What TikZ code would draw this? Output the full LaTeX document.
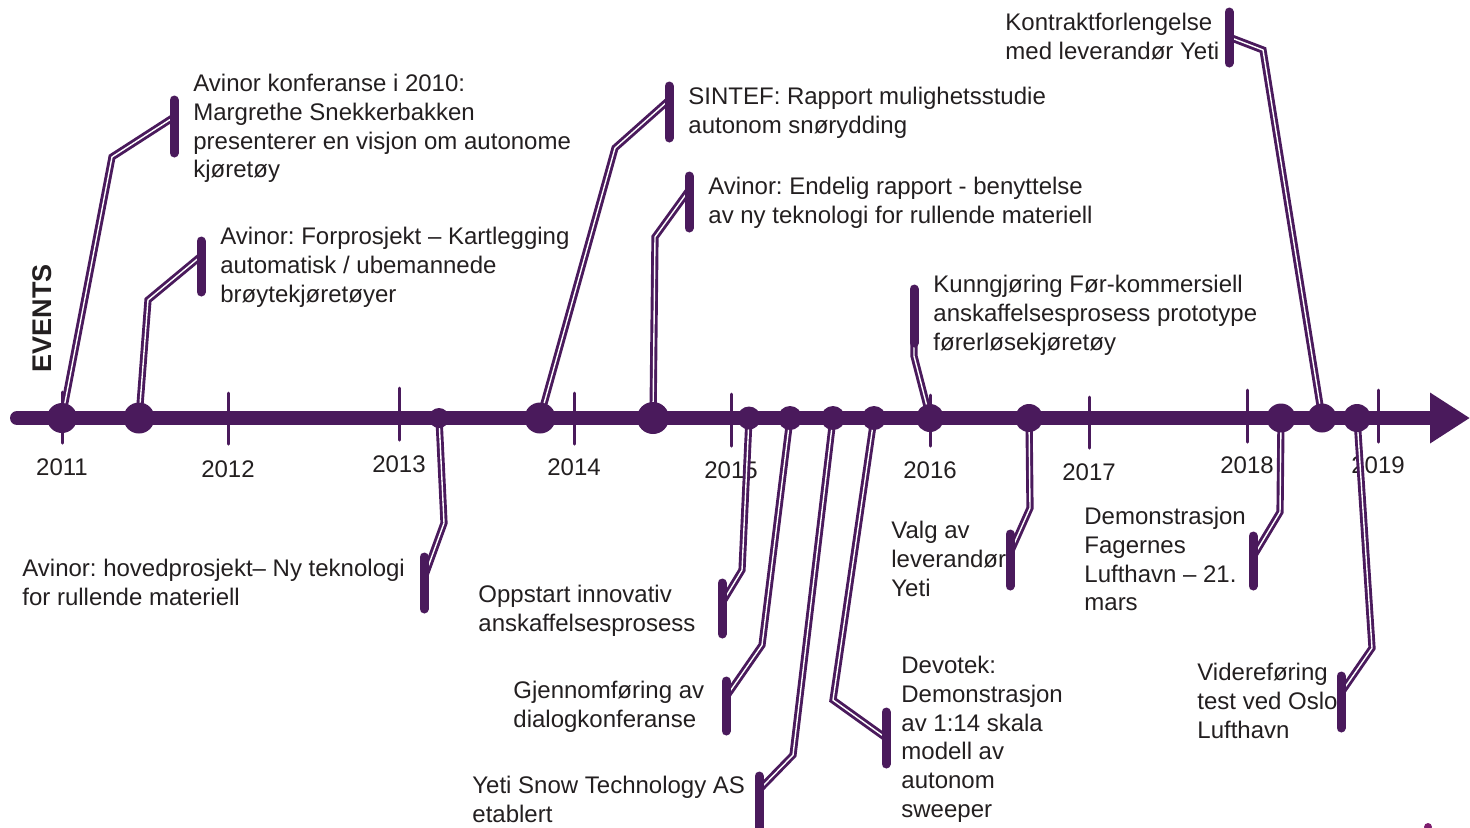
\documentclass[tikz,border=0pt]{standalone}
\usepackage{fontspec}
\setmainfont{Liberation Sans}
\usetikzlibrary{arrows.meta}

\definecolor{evpurple}{RGB}{74,26,92}
\definecolor{evgrey}{RGB}{35,31,32}
\definecolor{evmagenta}{RGB}{125,30,110}
\newcommand{\evfont}{\fontsize{12}{14.35}\selectfont}
\frenchspacing

\begin{document}
\begin{tikzpicture}[
  x=0.5pt, y=-0.5pt,
  every node/.style={font=\evfont, text=evgrey},
  eventtext/.style={anchor=north west, align=left, inner sep=0pt},
  yearlbl/.style={inner sep=0pt},
  axisline/.style={draw=evpurple, line width=7pt, line cap=round,
    -{Triangle[length=20pt, width=24pt]}},
  tickline/.style={draw=evpurple, line width=1.5pt, line cap=round},
  link/.style={draw=evpurple, double=white, line width=1.45pt,
    double distance=0.7pt},
  barline/.style={draw=evpurple, line width=4.5pt, line cap=round},
]
\useasboundingbox (0,0) rectangle (1470,827);

% Side label
\node[font=\fontsize{13.5}{16}\selectfont\bfseries, rotate=90] (evlbl) at (42,318) {EVENTS};

% Event texts above the axis
\node[eventtext] (E1) at (193,74)
  {Avinor konferanse i 2010:\\Margrethe Snekkerbakken\\presenterer en visjon om autonome\\kjøretøy};
\node[eventtext] (E2) at (220,227)
  {Avinor: Forprosjekt – Kartlegging\\automatisk / ubemannede\\brøytekjøretøyer};
\node[eventtext] (E4) at (688,87)
  {SINTEF: Rapport mulighetsstudie\\autonom snørydding};
\node[eventtext] (E5) at (708,177)
  {Avinor: Endelig rapport - benyttelse\\av ny teknologi for rullende materiell};
\node[eventtext] (E10) at (933,275)
  {Kunngjøring Før-kommersiell\\anskaffelsesprosess prototype\\førerløsekjøretøy};
\node[eventtext] (E13) at (1005,13)
  {Kontraktforlengelse\\med leverandør Yeti};

% Event texts below the axis
\node[eventtext] (E3) at (22,559)
  {Avinor: hovedprosjekt– Ny teknologi\\for rullende materiell};
\node[eventtext] (E6) at (478,585)
  {Oppstart innovativ\\anskaffelsesprosess};
\node[eventtext] (E7) at (513,681)
  {Gjennomføring av\\dialogkonferanse};
\node[eventtext] (E8) at (472,776)
  {Yeti Snow Technology AS\\etablert};
\node[eventtext] (E9) at (901,656)
  {Devotek:\\Demonstrasjon\\av 1:14 skala\\modell av\\autonom\\sweeper};
\node[eventtext] (E11) at (891,521)
  {Valg av\\leverandør\\Yeti};
\node[eventtext] (E12) at (1084,507)
  {Demonstrasjon\\Fagernes\\Lufthavn – 21.\\mars};
\node[eventtext] (E14) at (1197,663)
  {Videreføring\\test ved Oslo\\Lufthavn};

% Time axis with year ticks
\draw[axisline] (17,418) -- (1470,418);
\foreach \x/\t/\b/\ly/\yr in {62/392/443/467/2011, 228/393/444/469/2012,
    399/388/440/464/2013, 574/393/444/467/2014, 731/394/446/470/2015,
    930/395/446/470/2016, 1089/397/448/472/2017, 1247/390/442/465/2018,
    1378/390/442/465/2019} {
  \draw[tickline] (\x,\t) -- (\x,\b);
  \node[yearlbl] (Y\yr) at (\x,\ly) {\yr};
}

% Event points on the axis
\foreach \n/\x in {1/62, 2/139, 3/439, 4/540, 5/653, 6/749, 7/790, 8/833,
    9/874, 10/930, 11/1029, 12/1281, 13/1322, 14/1357}
  \coordinate (D\n) at (\x,418);

% Attach points on the bars
\coordinate (A1) at (174,117);
\coordinate (A2) at (201,256);
\coordinate (A3) at (424,578);
\coordinate (A4) at (669,100);
\coordinate (A5) at (689,190);
\coordinate (A6) at (722,603);
\coordinate (A7) at (726,697);
\coordinate (A8) at (759,790);
\coordinate (A9) at (886,738);
\coordinate (A10) at (914,335);
\coordinate (A11) at (1010,553);
\coordinate (A12) at (1253,557);
\coordinate (A13) at (1229,37);
\coordinate (A14) at (1341,693);

% Connectors
\draw[link] (D1) -- (112,157) -- (A1);
\draw[link] (D2) -- (148,300) -- (A2);
\draw[link] (D3) -- (444,523) -- (A3);
\draw[link] (D4) -- (615,148) -- (A4);
\draw[link] (D5) -- (655,237) -- (A5);
\draw[link] (D6) -- (742,570) -- (A6);
\draw[link] (D7) -- (762,645) -- (A7);
\draw[link] (D8) -- (793,755) -- (A8);
\draw[link] (D9) -- (833,700) -- (A9);
\draw[link] (A10) -- (914,356) -- (D10);
\draw[link] (D11) -- (1030,508) -- (A11);
\draw[link] (D12) -- (1280,512) -- (A12);
\draw[link] (A13) -- (1263,50) -- (D13);
\draw[link] (D14) -- (1372,648) -- (A14);

% Bars at the texts
\foreach \x/\t/\b in {174/100/153, 201/241/292, 424/557/609, 669/86/138,
    689/176/228, 722/583/634, 726/681/731, 759/776/830, 886/712/764,
    914/289/343, 1010/534/586, 1253/536/586, 1229/12/63, 1341/676/728}
  \draw[barline] (\x,\t) -- (\x,\b);

% Dots
\foreach \n/\r in {1/15, 2/15.5, 3/10, 4/15.5, 5/16, 6/11.5, 7/12, 8/12,
    9/12, 10/14, 11/14, 12/14.5, 13/14.5, 14/14}
  \fill[evpurple] (D\n) circle (\r);

\fill[evmagenta] (1428,827) circle (4);

\end{tikzpicture}
\end{document}
